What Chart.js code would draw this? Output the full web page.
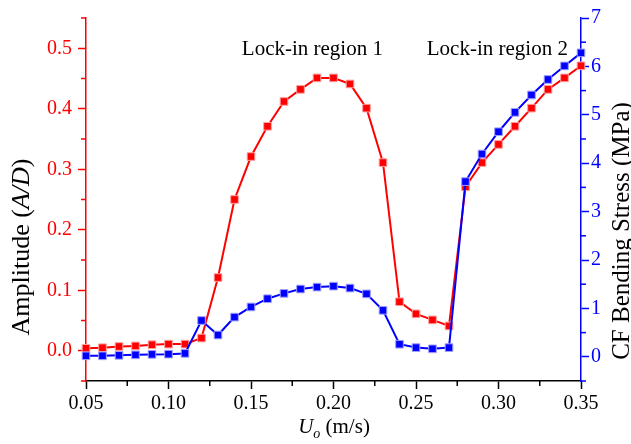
<!DOCTYPE html>
<html><head><meta charset="utf-8">
<script src="https://cdn.jsdelivr.net/npm/chart.js@4.4.0/dist/chart.umd.min.js"></script>
<style>html,body{margin:0;padding:0;background:#fff;} #wrap{width:631px;height:444px;}</style>
</head><body><div id="wrap"><canvas id="c" width="631" height="444"></canvas></div>
<script>
// ---- data ----
const velocity = [0.05,0.06,0.07,0.08,0.09,0.10,0.11,0.12,0.13,0.14,0.15,0.16,0.17,0.18,0.19,0.20,0.21,0.22,0.23,0.24,0.25,0.26,0.27,0.28,0.29,0.30,0.31,0.32,0.33,0.34,0.35];
const amplitude = [0.004,0.005,0.007,0.008,0.010,0.011,0.011,0.021,0.121,0.250,0.321,0.371,0.412,0.432,0.451,0.451,0.441,0.401,0.311,0.081,0.061,0.051,0.041,0.271,0.311,0.341,0.371,0.401,0.432,0.451,0.471];
const bendingStress = [0.02,0.02,0.03,0.04,0.05,0.055,0.07,0.75,0.45,0.82,1.03,1.20,1.31,1.40,1.44,1.46,1.42,1.30,0.96,0.26,0.19,0.165,0.19,3.62,4.19,4.65,5.05,5.41,5.73,6.01,6.28];
const xTicks = [0.05,0.10,0.15,0.20,0.25,0.30,0.35];
const xMinorTicks = [0.075,0.125,0.175,0.225,0.275,0.325];
const ampTicks = [0.0,0.1,0.2,0.3,0.4,0.5];
const ampMinorTicks = [-0.05,0.05,0.15,0.25,0.35,0.45,0.55];
const stressTicks = [0,1,2,3,4,5,6,7];
const stressMinorTicks = [-0.5,0.5,1.5,2.5,3.5,4.5,5.5,6.5];
const annotations = [
  {text:'Lock-in region 1', x:0.1872, y:0.489},
  {text:'Lock-in region 2', x:0.2993, y:0.489}
];

const FAM = '"Liberation Serif","Times New Roman",serif';
const RED = '#ff0000', BLUE = '#0000ff';

function drawRuns(ctx, runs, size, cx, cy, rot, color) {
  ctx.save();
  ctx.translate(cx, cy); ctx.rotate(rot);
  ctx.fillStyle = color; ctx.textBaseline = 'middle'; ctx.textAlign = 'left';
  let total = 0;
  runs.forEach(r => { ctx.font = (r.i ? 'italic ' : '') + (r.s || size) + 'px ' + FAM; r.w = ctx.measureText(r.t).width; total += r.w; });
  let x = -total / 2;
  runs.forEach(r => { ctx.font = (r.i ? 'italic ' : '') + (r.s || size) + 'px ' + FAM; ctx.fillText(r.t, x, r.dy || 0); x += r.w; });
  ctx.restore();
}

const extras = {
  id: 'extras',
  afterDraw(chart) {
    const ctx = chart.ctx;
    const xs = chart.scales.x, ya = chart.scales.yA, ys = chart.scales.yS;
    ctx.save();
    ctx.lineWidth = 1.5;
    ctx.strokeStyle = '#000';
    xMinorTicks.forEach(v => { const p = xs.getPixelForValue(v); ctx.beginPath(); ctx.moveTo(p, xs.top); ctx.lineTo(p, xs.top + 5); ctx.stroke(); });
    ctx.strokeStyle = RED;
    ampMinorTicks.forEach(v => { const p = ya.getPixelForValue(v); ctx.beginPath(); ctx.moveTo(ya.right, p); ctx.lineTo(ya.right - 5, p); ctx.stroke(); });
    ctx.strokeStyle = BLUE;
    stressMinorTicks.forEach(v => { const p = ys.getPixelForValue(v); ctx.beginPath(); ctx.moveTo(ys.left, p); ctx.lineTo(ys.left + 5, p); ctx.stroke(); });
    ctx.restore();
    ctx.save();
    ctx.font = '21px ' + FAM; ctx.fillStyle = '#000'; ctx.textAlign = 'center'; ctx.textBaseline = 'alphabetic';
    annotations.forEach(a => ctx.fillText(a.text, xs.getPixelForValue(a.x), ya.getPixelForValue(a.y)));
    ctx.restore();
    drawRuns(ctx, [{t:'Amplitude ('},{t:'A/D',i:true},{t:')'}], 26, 22, 247, -Math.PI/2, '#000');
    drawRuns(ctx, [{t:'CF Bending Stress (MPa)'}], 25, 622, 231, -Math.PI/2, '#000');
    drawRuns(ctx, [{t:'U',i:true},{t:'o',i:true,s:14,dy:7},{t:' (m/s)'}], 21, 334, 427, 0, '#000');
  }
};

new Chart(document.getElementById('c'), {
  type: 'line',
  data: {
    datasets: [
      {
        label: 'CF Bending Stress',
        data: velocity.map((v, i) => ({x: v, y: bendingStress[i]})),
        yAxisID: 'yS', borderColor: BLUE, backgroundColor: BLUE, borderWidth: 2,
        pointStyle: 'rect', pointRadius: 5.4, pointBorderColor: '#a0a0ff', pointBorderWidth: 1, pointBackgroundColor: BLUE,
        tension: 0, order: 0, clip: false
      },
      {
        label: 'Amplitude',
        data: velocity.map((v, i) => ({x: v, y: amplitude[i]})),
        yAxisID: 'yA', borderColor: RED, backgroundColor: RED, borderWidth: 2,
        pointStyle: 'rect', pointRadius: 5.4, pointBorderColor: '#ffa0a0', pointBorderWidth: 1, pointBackgroundColor: RED,
        tension: 0, order: 1, clip: false
      }
    ]
  },
  options: {
    responsive: false, animation: false, devicePixelRatio: 1,
    layout: {padding: {top: 17, left: 0, right: 0, bottom: 0}},
    plugins: {legend: {display: false}, tooltip: {enabled: false}},
    scales: {
      x: {
        type: 'linear', min: 0.05, max: 0.35, position: 'bottom',
        afterBuildTicks: s => { s.ticks = xTicks.map(v => ({value: v})); },
        afterFit: s => { s.height = 63; },
        ticks: {callback: v => v.toFixed(2), color: '#000', font: {family: FAM, size: 20}, padding: 3, maxRotation: 0, autoSkip: false},
        grid: {drawOnChartArea: false, drawTicks: true, tickLength: 8, tickColor: '#000', tickWidth: 1.5},
        border: {display: true, color: '#000', width: 1.5}
      },
      yA: {
        type: 'linear', position: 'left', min: -0.05, max: 0.55,
        afterBuildTicks: s => { s.ticks = ampTicks.map(v => ({value: v})); },
        afterFit: s => { s.width = 86; },
        ticks: {callback: v => v.toFixed(1), color: RED, font: {family: FAM, size: 20}, padding: 6, autoSkip: false},
        grid: {drawOnChartArea: false, drawTicks: true, tickLength: 8, tickColor: RED, tickWidth: 1.5},
        border: {display: true, color: RED, width: 1.5}
      },
      yS: {
        type: 'linear', position: 'right', min: -0.5, max: 7,
        afterBuildTicks: s => { s.ticks = stressTicks.map(v => ({value: v})); },
        afterFit: s => { s.width = 50; },
        ticks: {callback: v => String(v), color: BLUE, font: {family: FAM, size: 20}, padding: 2, autoSkip: false},
        grid: {drawOnChartArea: false, drawTicks: true, tickLength: 8, tickColor: BLUE, tickWidth: 1.5},
        border: {display: true, color: BLUE, width: 1.5}
      }
    }
  },
  plugins: [extras]
});
</script>
</body></html>
